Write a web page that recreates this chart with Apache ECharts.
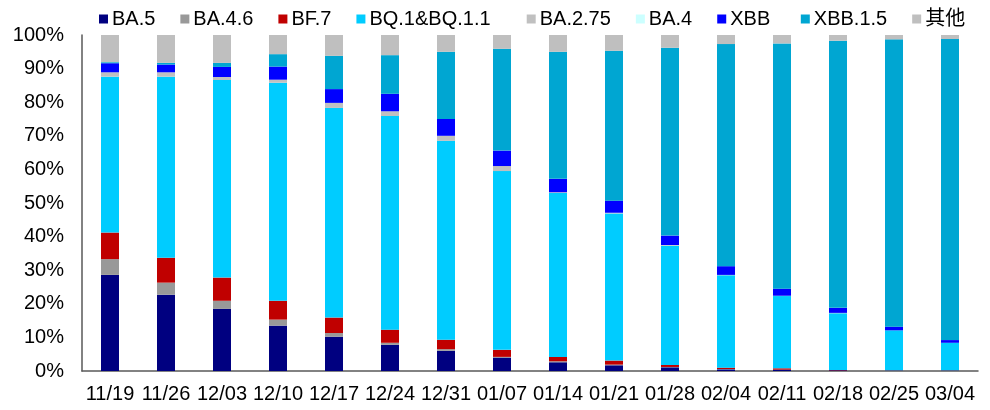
<!DOCTYPE html>
<html>
<head>
<meta charset="utf-8">
<script src="https://cdn.jsdelivr.net/npm/echarts@6/dist/echarts.min.js"></script>
<style>
  html, body { margin: 0; padding: 0; background: #fff; }
  #chart { width: 990px; height: 410px; }
</style>
</head>
<body>
<div id="chart"></div>
<script>
// Weekly variant share (%), stacked bottom to top
const weeks = ['11/19','11/26','12/03','12/10','12/17','12/24','12/31','01/07','01/14','01/21','01/28','02/04','02/11','02/18','02/25','03/04'];

const ba5     = [28.6, 22.7, 18.5, 13.5, 10.2, 7.8, 6.0, 4.0, 2.6, 1.7, 1.1, 0.5, 0.4, 0.2, 0.1, 0.1];
const ba46    = [4.7, 3.6, 2.4, 1.8, 1.1, 0.6, 0.5, 0.2, 0.3, 0.2, 0.1, 0.1, 0, 0, 0, 0];
const bf7     = [7.9, 7.4, 6.9, 5.6, 4.6, 3.9, 2.8, 2.1, 1.3, 1.2, 0.6, 0.4, 0.4, 0.1, 0.1, 0.1];
const bq1     = [46.4, 53.9, 58.8, 64.9, 62.4, 63.6, 59.2, 53.2, 48.8, 43.8, 35.5, 27.5, 21.5, 16.9, 11.9, 8.2];
const ba275   = [1.3, 1.3, 0.9, 0.9, 1.5, 1.4, 1.5, 1.5, 0.2, 0.2, 0.2, 0.1, 0.1, 0.1, 0, 0];
const ba4     = [0, 0, 0, 0, 0, 0, 0, 0, 0, 0, 0, 0, 0, 0, 0, 0];
const xbb     = [2.7, 2.3, 3.0, 3.9, 4.1, 5.2, 5.0, 4.6, 4.0, 3.6, 2.8, 2.6, 2.1, 1.5, 1.1, 0.8];
const xbb15   = [0.3, 0.5, 1.2, 3.7, 9.9, 11.5, 20.0, 30.3, 37.8, 44.6, 55.9, 66.1, 73.0, 79.5, 85.5, 89.6];
const others  = [8.1, 8.3, 8.3, 5.7, 6.2, 6.0, 5.0, 4.1, 5.0, 4.7, 3.8, 2.7, 2.5, 1.7, 1.3, 1.2];

const yTicks = { min: 0, max: 100, step: 10 };

// pad: trailing spaces after a legend label, to widen its slot
const seriesDefs = [
  { name: 'BA.5',        data: ba5,    color: '#000080', pad: 0 },
  { name: 'BA.4.6',      data: ba46,   color: '#999999', pad: 0 },
  { name: 'BF.7',        data: bf7,    color: '#C00000', pad: 0 },
  { name: 'BQ.1&BQ.1.1', data: bq1,    color: '#00CCFF', pad: 2 },
  { name: 'BA.2.75',     data: ba275,  color: '#C0C0C0', pad: 0 },
  { name: 'BA.4',        data: ba4,    color: '#CCFFFF', pad: 0 },
  { name: 'XBB',         data: xbb,    color: '#0000FF', pad: 1 },
  { name: 'XBB.1.5',     data: xbb15,  color: '#00A6D2', pad: 0 },
  { name: '其他',        data: others, color: '#BFBFBF', pad: 0 }
];
const padOf = {};
seriesDefs.forEach(s => { padOf[s.name] = s.pad; });

const font = '"Liberation Sans", Arial, "Noto Sans CJK SC", sans-serif';

const chart = echarts.init(document.getElementById('chart'), null, { renderer: 'canvas' });

chart.setOption({
  animation: false,
  backgroundColor: '#ffffff',
  textStyle: { fontFamily: font },
  legend: {
    top: 4,
    left: 94,
    itemWidth: 9,
    itemHeight: 9,
    itemGap: 25,
    icon: 'rect',
    textStyle: { fontSize: 20, color: '#000', fontFamily: font, padding: [0, 0, 0, -1] },
    formatter: name => name + '\u00a0'.repeat(padOf[name] || 0),
    data: seriesDefs.map(s => s.name)
  },
  grid: { left: 82, right: 12, top: 35, bottom: 39, containLabel: false },
  xAxis: {
    type: 'category',
    data: weeks,
    axisLine: { lineStyle: { color: '#595959', width: 1.5 } },
    axisTick: { show: false },
    axisLabel: { fontSize: 20, color: '#000', margin: 13, interval: 0, fontFamily: font }
  },
  yAxis: {
    type: 'value',
    min: yTicks.min,
    max: yTicks.max,
    interval: yTicks.step,
    axisLine: { show: true, lineStyle: { color: '#595959', width: 1.5 } },
    axisTick: { show: false },
    splitLine: { show: false },
    axisLabel: { fontSize: 20, color: '#000', margin: 18, formatter: '{value}%', fontFamily: font }
  },
  series: seriesDefs.map(s => ({
    name: s.name,
    type: 'bar',
    stack: 'share',
    barWidth: 18,
    data: s.data,
    itemStyle: { color: s.color }
  }))
});
</script>
</body>
</html>
